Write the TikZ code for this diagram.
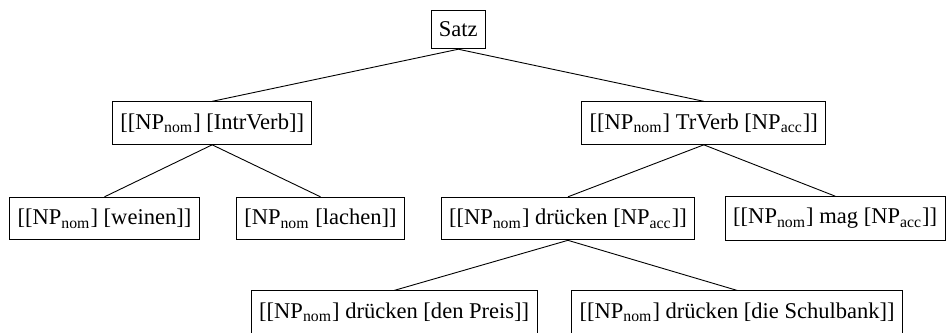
\documentclass[tikz,border=0pt]{standalone}
\usepackage{fontspec}
\setmainfont{Liberation Serif}
\usepackage{tikz}
\newcommand{\NPnom}{NP\textsubscript{nom}}
\newcommand{\NPacc}{NP\textsubscript{acc}}

\begin{document}
\begin{tikzpicture}[
    knoten/.style={draw, thin, inner xsep=3.5pt, inner ysep=5.2pt, font=\normalsize},
    kante/.style={thin}
  ]
  \useasboundingbox (0,0) rectangle (14.79,-5.19);
  % Wurzel
  \node[knoten] (satz) at (7.15,-0.46) {Satz};

  % zweite Ebene
  \node[knoten] (intr) at (3.31,-1.92) {[[\NPnom] [IntrVerb]]};
  \node[knoten] (trans) at (10.98,-1.92) {[[\NPnom] TrVerb [\NPacc]]};

  % dritte Ebene
  \node[knoten] (weinen) at (1.63,-3.41) {[[\NPnom] [weinen]]};
  \node[knoten] (lachen) at (5.00,-3.41) {[\NPnom{} [lachen]]};
  \node[knoten] (druecken) at (8.86,-3.41) {[[\NPnom] drücken [\NPacc]]};
  \node[knoten] (mag) at (13.03,-3.41) {[[\NPnom] mag [\NPacc]]};

  % vierte Ebene
  \node[knoten] (preis) at (6.15,-4.87) {[[\NPnom] drücken [den Preis]]};
  \node[knoten] (schulbank) at (11.50,-4.87) {[[\NPnom] drücken [die Schulbank]]};

  % Kanten
  \draw[kante] (satz.south) -- (intr.north);
  \draw[kante] (satz.south) -- (trans.north);
  \draw[kante] (intr.south) -- (weinen.north);
  \draw[kante] (intr.south) -- (lachen.north);
  \draw[kante] (trans.south) -- (druecken.north);
  \draw[kante] (trans.south) -- (mag.north);
  \draw[kante] (druecken.south) -- (preis.north);
  \draw[kante] (druecken.south) -- (schulbank.north);
\end{tikzpicture}
\end{document}
